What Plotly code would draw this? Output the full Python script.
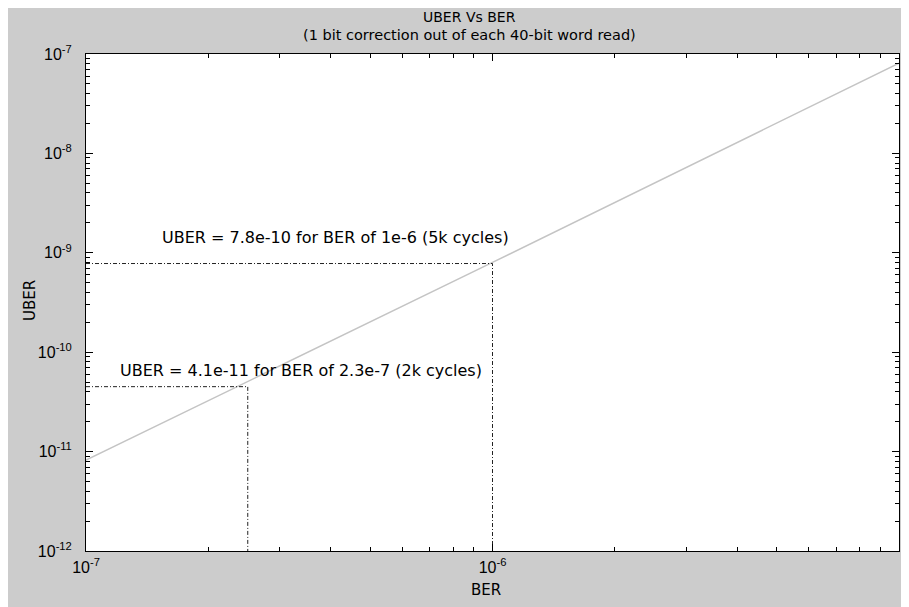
import plotly.graph_objects as go

# Data
ber = [1e-7, 1e-6, 1e-5]
uber = [8.2e-12, 8.0e-10, 8.1e-8]

# reference point 1 (5k cycles)
ref1_ber = 1e-6
ref1_uber = 7.8e-10
ref1_text = "UBER = 7.8e-10 for BER of 1e-6 (5k cycles)"
# reference point 2 (2k cycles)
ref2_ber = 2.5e-7
ref2_uber = 4.5e-11
ref2_text = "UBER = 4.1e-11 for BER of 2.3e-7 (2k cycles)"

title_text = "UBER Vs BER"
subtitle_text = "(1 bit correction out of each 40-bit word read)"
x_title = "BER"
y_title = "UBER"

x_min, x_max = 1e-7, 1e-5
y_min, y_max = 1e-12, 1e-7

x_exps = [-7, -6, -5]
y_exps = [-12, -11, -10, -9, -8, -7]

FONT = "DejaVu Sans, Liberation Sans, sans-serif"
TICKFONT = "Liberation Sans, Arial, sans-serif"
dashpat = "4px,2px,1px,2px"

fig = go.Figure()
fig.add_trace(go.Scatter(x=ber, y=uber, mode="lines",
                         line=dict(color="#c4c4c4", width=1.5), showlegend=False))
for bx, uy in [(ref1_ber, ref1_uber), (ref2_ber, ref2_uber)]:
    fig.add_trace(go.Scatter(x=[x_min, bx, bx], y=[uy, uy, y_min], mode="lines",
                             line=dict(color="#222222", width=1, dash=dashpat),
                             showlegend=False))

def minor_vals(exps):
    out = []
    for e in exps[:-1]:
        for m in range(2, 10):
            out.append(m * 10.0 ** e)
    return out

axis_common = dict(type="log", showgrid=False, zeroline=False, automargin=False,
                   showline=True, linecolor="black", linewidth=1, mirror="allticks",
                   ticks="inside", ticklen=7, tickcolor="black", tickwidth=1,
                   tickfont=dict(family=TICKFONT, size=16, color="black"))

fig.update_xaxes(**axis_common,
                 range=[-7, -5],
                 tickmode="array",
                 tickvals=[10.0 ** e for e in x_exps],
                 ticktext=[f"10<sup>{e}</sup>" for e in x_exps],
                 ticklabelstandoff=2,
                 minor=dict(ticks="inside", ticklen=4, tickcolor="black",
                            tickvals=minor_vals(x_exps), showgrid=False))
fig.update_yaxes(**axis_common,
                 range=[-12, -7],
                 tickmode="array",
                 tickvals=[10.0 ** e for e in y_exps],
                 ticktext=[f"10<sup>{e}</sup>" for e in y_exps],
                 ticklabelstandoff=10,
                 minor=dict(ticks="inside", ticklen=4, tickcolor="black",
                            tickvals=minor_vals(y_exps), showgrid=False))

fig.add_annotation(x=-6.818, y=-8.841, xref="x", yref="y", text=ref1_text,
                   showarrow=False, xanchor="left", yanchor="middle",
                   font=dict(family=FONT, size=16, color="black"))
fig.add_annotation(x=-6.921, y=-10.18, xref="x", yref="y", text=ref2_text,
                   showarrow=False, xanchor="left", yanchor="middle",
                   font=dict(family=FONT, size=16, color="black"))

# titles as paper annotations
fig.add_annotation(x=0.4723, y=1.0744, xref="paper", yref="paper", text=title_text,
                   showarrow=False, xanchor="center", yanchor="middle",
                   font=dict(family=FONT, size=14, color="black"))
fig.add_annotation(x=0.4723, y=1.0382, xref="paper", yref="paper", text=subtitle_text,
                   showarrow=False, xanchor="center", yanchor="middle",
                   font=dict(family=FONT, size=14.5, color="black"))
fig.add_annotation(x=0.4920, y=-0.0785, xref="paper", yref="paper", text=x_title,
                   showarrow=False, xanchor="center", yanchor="middle",
                   font=dict(family=FONT, size=15, color="black"))
fig.add_annotation(x=-0.0689, y=0.505, xref="paper", yref="paper", text=y_title,
                   showarrow=False, xanchor="center", yanchor="middle", textangle=-90,
                   font=dict(family=FONT, size=15, color="black"))

fig.update_layout(
    width=901, height=599,
    margin=dict(l=78, r=10, t=46, b=56),
    paper_bgcolor="#cccccc", plot_bgcolor="white",
    font=dict(family=FONT, color="black"),
)

fig.write_html("out.html")
